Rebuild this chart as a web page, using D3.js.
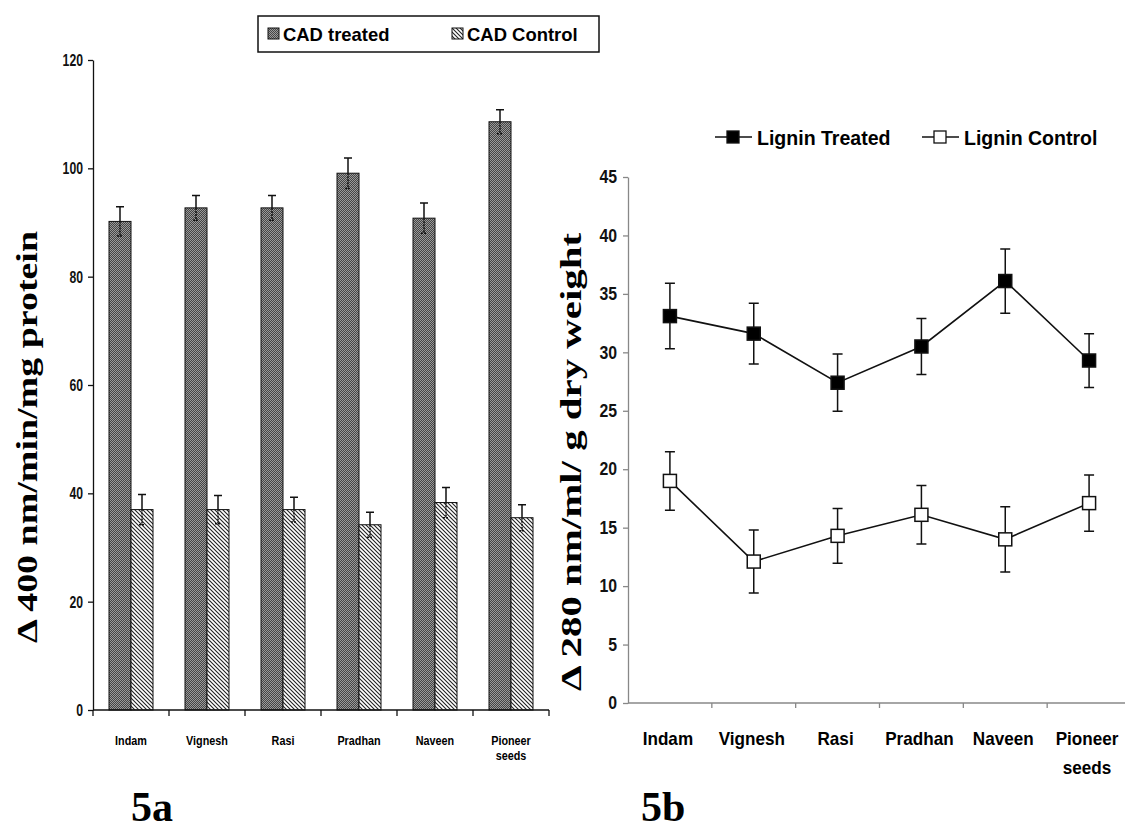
<!DOCTYPE html>
<html>
<head>
<meta charset="utf-8">
<script src="https://cdn.jsdelivr.net/npm/d3@7"></script>
<style>
  body { margin: 0; background: #fff; }
  .nar { font-family: "Liberation Sans", Arial, sans-serif; font-weight: bold; }
  .ser { font-family: "Liberation Serif", "Times New Roman", serif; font-weight: bold; }
</style>
</head>
<body>
<svg id="chart"></svg>
<script>
var cultivars = ["Indam", "Vignesh", "Rasi", "Pradhan", "Naveen", "Pioneer seeds"];

// fig 5a: CAD activity
var cadTreated = [90.2, 92.7, 92.7, 99.1, 90.8, 108.6];
var cadTreatedErr = [2.7, 2.3, 2.3, 2.8, 2.8, 2.2];
var cadControl = [37.0, 37.0, 37.0, 34.2, 38.3, 35.5];
var cadControlErr = [2.8, 2.6, 2.3, 2.3, 2.8, 2.4];
var cadTicks = [0, 20, 40, 60, 80, 100, 120];

// fig 5b: lignin
var ligTreated = [33.1, 31.6, 27.4, 30.5, 36.1, 29.3];
var ligTreatedErr = [2.8, 2.6, 2.45, 2.4, 2.75, 2.3];
var ligControl = [19.0, 12.1, 14.3, 16.1, 14.0, 17.1];
var ligControlErr = [2.5, 2.7, 2.35, 2.5, 2.8, 2.4];
var ligTicks = [0, 5, 10, 15, 20, 25, 30, 35, 40, 45];

var W = 1125, H = 832;
var svg = d3.select("#chart").attr("width", W).attr("height", H);

// squeeze text horizontally (original uses a narrow font)
function condense(sel, f) {
  sel.each(function() {
    var n = this;
    var parts = n.querySelectorAll("tspan");
    var list = parts.length ? Array.from(parts) : [n];
    list.forEach(function(el) {
      var w = el.getComputedTextLength();
      el.setAttribute("textLength", (w * f).toFixed(1));
      el.setAttribute("lengthAdjust", "spacingAndGlyphs");
    });
  });
}

var defs = svg.append("defs");
var pt = defs.append("pattern").attr("id", "chk").attr("patternUnits", "userSpaceOnUse")
  .attr("width", 2).attr("height", 2);
pt.append("rect").attr("width", 2).attr("height", 2).attr("fill", "#9a9a9a");
pt.append("rect").attr("width", 1).attr("height", 1).attr("fill", "#454545");
pt.append("rect").attr("x", 1).attr("y", 1).attr("width", 1).attr("height", 1).attr("fill", "#454545");

var ph = defs.append("pattern").attr("id", "hatch").attr("patternUnits", "userSpaceOnUse")
  .attr("width", 4).attr("height", 4);
ph.append("rect").attr("width", 4).attr("height", 4).attr("fill", "#fff");
ph.append("path").attr("d", "M-1,-1 L5,5 M-1,3 L1,5 M3,-1 L5,1")
  .attr("stroke", "#222").attr("stroke-width", 1.1);

// ---------- 5a bar chart ----------
var x0 = d3.scaleBand().domain(cultivars).range([93, 549]);
var x1 = d3.scaleBand().domain(["t", "c"]).range([0, 44]);
var y0 = d3.scaleLinear().domain([0, 120]).range([710, 60]);

var gA = svg.append("g");
var barData = cultivars.map(function(c, i) {
  return [
    {key: "t", cat: c, v: cadTreated[i], e: cadTreatedErr[i]},
    {key: "c", cat: c, v: cadControl[i], e: cadControlErr[i]}
  ];
});
var grp = gA.selectAll(".grp").data(barData).enter().append("g")
  .attr("transform", function(d) { return "translate(" + (x0(d[0].cat) + x0.bandwidth() / 2 - 22) + ",0)"; });
grp.selectAll("rect").data(function(d) { return d; }).enter().append("rect")
  .attr("x", function(d) { return x1(d.key); })
  .attr("width", x1.bandwidth())
  .attr("y", function(d) { return y0(d.v); })
  .attr("height", function(d) { return y0(0) - y0(d.v); })
  .attr("fill", function(d) { return d.key == "t" ? "url(#chk)" : "url(#hatch)"; })
  .attr("stroke", "#111").attr("stroke-width", 1);

// error bars: upper part solid, part inside bar dotted
grp.selectAll(".eu").data(function(d) { return d; }).enter().append("path")
  .attr("d", function(d) {
    var cx = x1(d.key) + x1.bandwidth() / 2;
    return "M" + cx + "," + y0(d.v) + "V" + y0(d.v + d.e) + "M" + (cx - 4) + "," + y0(d.v + d.e) + "H" + (cx + 4);
  })
  .attr("stroke", "#111").attr("stroke-width", 1.5).attr("fill", "none");
grp.selectAll(".ed").data(function(d) { return d; }).enter().append("path")
  .attr("d", function(d) {
    var cx = x1(d.key) + x1.bandwidth() / 2;
    return "M" + cx + "," + y0(d.v) + "V" + y0(d.v - d.e) + "M" + (cx - 3) + "," + y0(d.v - d.e) + "H" + (cx + 3);
  })
  .attr("stroke", "#111").attr("stroke-width", 1.5).attr("stroke-dasharray", "2,1").attr("fill", "none");

var axL = gA.append("g").attr("transform", "translate(93,0)")
  .call(d3.axisLeft(y0).tickValues(cadTicks).tickSize(5).tickSizeOuter(0));
axL.selectAll("text").attr("class", "nar").style("font-size", "17px").attr("fill", "#111").attr("x", -10);
condense(axL.selectAll("text"), 0.72);
axL.selectAll("path, line").attr("stroke", "#111").attr("stroke-width", 1.3);

var axB = gA.append("g").attr("transform", "translate(0,710)");
axB.append("line").attr("x1", 93).attr("x2", 549).attr("stroke", "#111").attr("stroke-width", 1.3);
axB.selectAll(".tk").data(cultivars).enter().append("line")
  .attr("x1", function(d) { return x0(d) + x0.bandwidth(); })
  .attr("x2", function(d) { return x0(d) + x0.bandwidth(); })
  .attr("y1", 0).attr("y2", 6).attr("stroke", "#111").attr("stroke-width", 1.3);
axB.append("line").attr("x1", 93).attr("x2", 93).attr("y1", 0).attr("y2", 6).attr("stroke", "#111").attr("stroke-width", 1.3);
var lblA = axB.selectAll(".lbl").data(cultivars).enter().append("text")
  .attr("class", "nar").style("font-size", "13.5px").attr("text-anchor", "middle")
  .attr("x", function(d) { return x0(d) + x0.bandwidth() / 2; })
  .attr("y", 35)
  .each(function(d) {
    var w = d.split(" ");
    var t = d3.select(this);
    w.forEach(function(s, k) { t.append("tspan").attr("x", t.attr("x")).attr("dy", k ? 15 : 0).text(s); });
  });
condense(lblA, 0.8);

gA.append("text").attr("class", "ser").style("font-size", "29px")
  .attr("text-anchor", "middle")
  .attr("textLength", 412).attr("lengthAdjust", "spacingAndGlyphs")
  .attr("transform", "translate(37,437) rotate(-90)")
  .text("\u0394 400 nm/min/mg protein");

// legend 5a
var lgA = gA.append("g");
lgA.append("rect").attr("x", 258).attr("y", 16).attr("width", 341).attr("height", 36)
  .attr("fill", "#fff").attr("stroke", "#111").attr("stroke-width", 1.5);
var lgItems = [{f: "url(#chk)", t: "CAD treated", x: 268}, {f: "url(#hatch)", t: "CAD Control", x: 452}];
lgItems.forEach(function(d) {
  lgA.append("rect").attr("x", d.x).attr("y", 28).attr("width", 11).attr("height", 11)
    .attr("fill", d.f).attr("stroke", "#111");
  var t = lgA.append("text").attr("class", "nar").style("font-size", "19px")
    .attr("x", d.x + 15).attr("y", 41).text(d.t);
  condense(t, 0.97);
});

gA.append("text").attr("class", "ser").style("font-size", "42px")
  .attr("x", 131).attr("y", 821).text("5a");

// ---------- 5b line chart ----------
var xb = d3.scaleBand().domain(cultivars).range([628, 1131]);
var yb = d3.scaleLinear().domain([0, 45]).range([703, 177]);
var gB = svg.append("g");

var axL2 = gB.append("g").attr("transform", "translate(628,0)")
  .call(d3.axisLeft(yb).tickValues(ligTicks).tickSize(5).tickSizeOuter(0));
axL2.selectAll("path, line").attr("stroke", "#888").attr("stroke-width", 1.3);
axL2.selectAll("text").attr("class", "nar").style("font-size", "18px").attr("fill", "#111").attr("x", -11);
condense(axL2.selectAll("text"), 0.88);

var axB2 = gB.append("g").attr("transform", "translate(0,703)");
axB2.append("line").attr("x1", 628).attr("x2", 1125).attr("stroke", "#888").attr("stroke-width", 1.3);
axB2.selectAll(".tk").data(cultivars.slice(0, 5)).enter().append("line")
  .attr("x1", function(d) { return xb(d) + xb.bandwidth(); })
  .attr("x2", function(d) { return xb(d) + xb.bandwidth(); })
  .attr("y1", 0).attr("y2", 5).attr("stroke", "#888").attr("stroke-width", 1.3);
var lblB = axB2.selectAll(".lbl").data(cultivars).enter().append("text")
  .attr("class", "nar").style("font-size", "19px").attr("text-anchor", "middle")
  .attr("x", function(d) { return xb(d) + xb.bandwidth() / 2 - 2; })
  .attr("y", 42)
  .each(function(d) {
    var w = d.split(" ");
    var t = d3.select(this);
    w.forEach(function(s, k) { t.append("tspan").attr("x", t.attr("x")).attr("dy", k ? 29 : 0).text(s); });
  });
condense(lblB, 0.9);

var series = [
  {name: "Lignin Treated", v: ligTreated, e: ligTreatedErr, fill: "#000"},
  {name: "Lignin Control", v: ligControl, e: ligControlErr, fill: "#fff"}
];
var line = d3.line()
  .x(function(d, i) { return xb(cultivars[i]) + xb.bandwidth() / 2; })
  .y(function(d) { return yb(d); });

series.forEach(function(s) {
  var g = gB.append("g");
  g.append("path").attr("d", line(s.v)).attr("fill", "none").attr("stroke", "#111").attr("stroke-width", 1.6);
  g.selectAll(".err").data(s.v).enter().append("path")
    .attr("d", function(d, i) {
      var cx = xb(cultivars[i]) + xb.bandwidth() / 2;
      var t = yb(d + s.e[i]), b = yb(d - s.e[i]);
      return "M" + cx + "," + t + "V" + b + "M" + (cx - 5) + "," + t + "H" + (cx + 5) + "M" + (cx - 5) + "," + b + "H" + (cx + 5);
    })
    .attr("stroke", "#111").attr("stroke-width", 1.5).attr("fill", "none");
  g.selectAll(".mk").data(s.v).enter().append("rect")
    .attr("x", function(d, i) { return xb(cultivars[i]) + xb.bandwidth() / 2 - 6.5; })
    .attr("y", function(d) { return yb(d) - 6.5; })
    .attr("width", 13).attr("height", 13)
    .attr("fill", s.fill).attr("stroke", "#111").attr("stroke-width", 1.5);
});

// legend 5b
var lgB = [{s: series[0], x: 715}, {s: series[1], x: 922}];
lgB.forEach(function(d) {
  gB.append("line").attr("x1", d.x).attr("x2", d.x + 37).attr("y1", 137).attr("y2", 137)
    .attr("stroke", "#111").attr("stroke-width", 1.6);
  gB.append("rect").attr("x", d.x + 12).attr("y", 131).attr("width", 12).attr("height", 12)
    .attr("fill", d.s.fill).attr("stroke", "#111").attr("stroke-width", 1.3);
  var t = gB.append("text").attr("class", "nar").style("font-size", "21px")
    .attr("x", d.x + 42).attr("y", 145).text(d.s.name);
  condense(t, 0.93);
});

gB.append("text").attr("class", "ser").style("font-size", "29px")
  .attr("text-anchor", "middle")
  .attr("textLength", 458).attr("lengthAdjust", "spacingAndGlyphs")
  .attr("transform", "translate(581,462) rotate(-90)")
  .text("\u0394 280 nm/ml/ g dry weight");

gB.append("text").attr("class", "ser").style("font-size", "42px")
  .attr("x", 641).attr("y", 821).text("5b");
</script>
</body>
</html>
